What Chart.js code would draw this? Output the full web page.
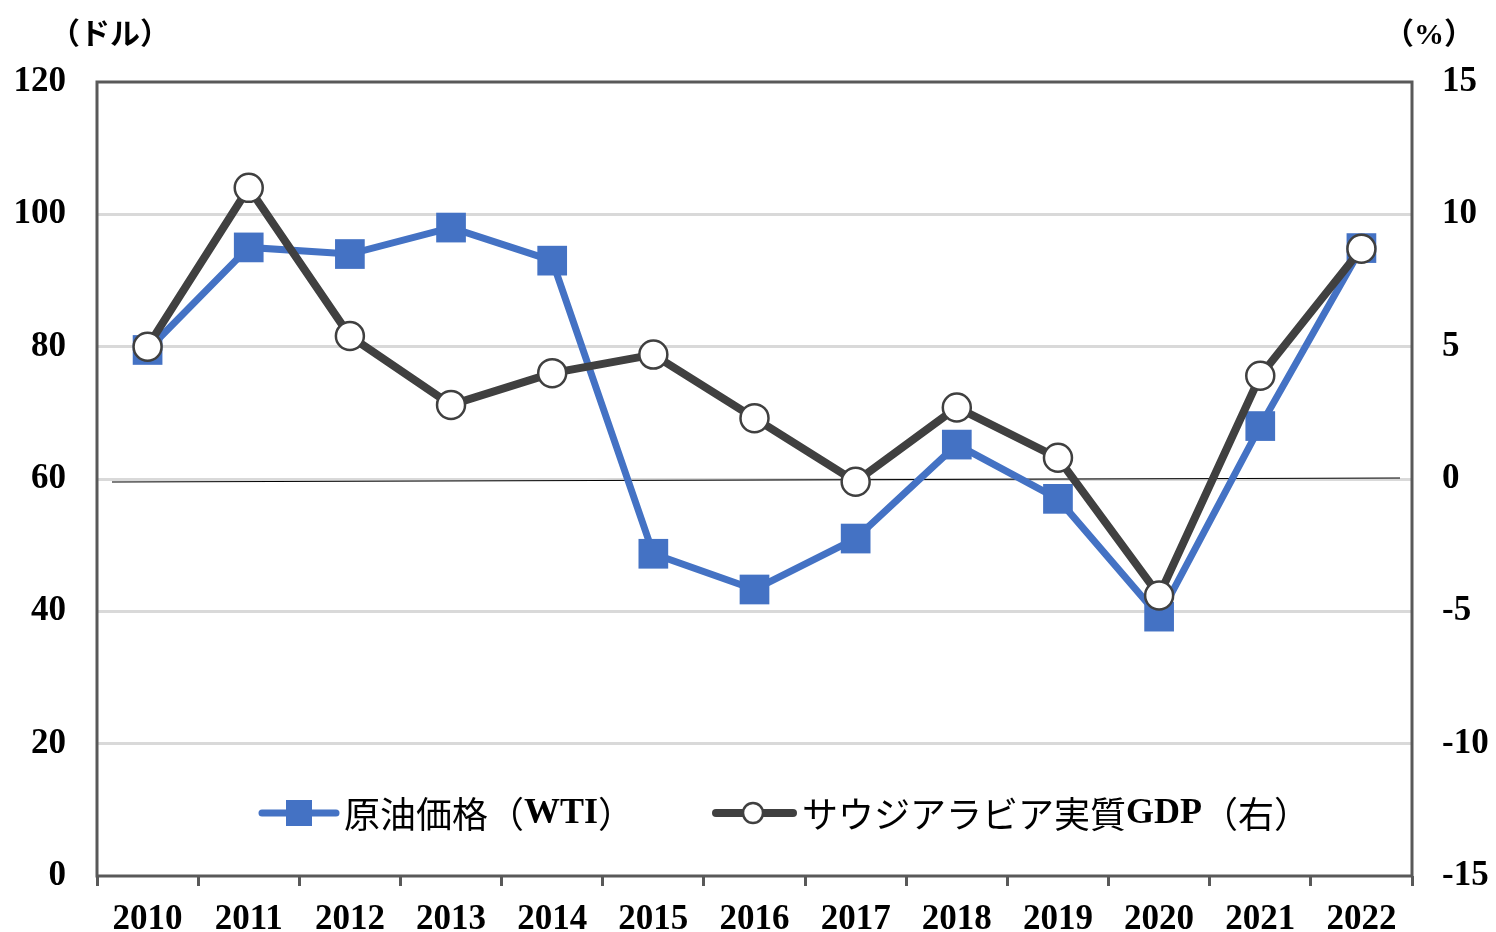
<!DOCTYPE html>
<html>
<head>
<meta charset="utf-8">
<script src="https://cdn.jsdelivr.net/npm/chart.js@4"></script>
<style>
  body { margin: 0; background: #fff; }
  #wrap { width: 1496px; height: 932px; }
</style>
</head>
<body>
<div id="wrap"><canvas id="myChart" width="1496" height="932"></canvas></div>
<script>
// data
const years = ['2010','2011','2012','2013','2014','2015','2016','2017','2018','2019','2020','2021','2022'];
const wtiPrice = [79.5, 95, 94, 98, 93, 48.7, 43.3, 51, 65.2, 57, 39.2, 68, 94.9];
const saudiGdp = [5.0, 11.0, 5.4, 2.8, 4.0, 4.7, 2.3, -0.1, 2.7, 0.8, -4.4, 3.9, 8.7];
const leftTicks = [0, 20, 40, 60, 80, 100, 120];
const rightTicks = [-15, -10, -5, 0, 5, 10, 15];
// legend texts, split so the latin part can be bold serif
const wtiLabel = [['原油価格（', 0], ['WTI', 1], ['）', 0]];
const gdpLabel = [['サウジアラビア実質', 0], ['GDP', 1], ['（右）', 0]];

const blue = '#4472C4';
const dark = '#404040';
const numFont = "'Liberation Serif', 'Noto Sans CJK JP', serif";
const jpFont = "'Noto Sans CJK JP', 'Liberation Serif', sans-serif";

function drawParts(c, parts, x, y) {
  for (const p of parts) {
    c.font = p[1] ? "bold 36px " + numFont : "36px " + jpFont;
    c.fillText(p[0], x, y);
    x += c.measureText(p[0]).width;
  }
}

// frame, zero line, axis units and legend
const extras = {
  id: 'extras',
  beforeDatasetsDraw(chart) {
    const c = chart.ctx, a = chart.chartArea;
    const y0 = chart.scales.y1.getPixelForValue(0);
    c.save();
    c.strokeStyle = '#000';
    c.lineWidth = 1.2;
    c.beginPath();
    c.moveTo(a.left + 15, y0 + 3);
    c.lineTo(a.right - 12, y0 - 1);
    c.stroke();
    c.restore();
  },
  afterDraw(chart) {
    const c = chart.ctx, a = chart.chartArea;
    c.save();
    c.strokeStyle = '#595959';
    c.lineWidth = 3;
    c.strokeRect(a.left, a.top, a.right - a.left, a.bottom - a.top);

    c.fillStyle = '#000';
    c.font = "bold 30px " + jpFont;
    c.textBaseline = 'middle';
    c.textAlign = 'left';
    c.fillText('（ドル）', 50, 33);
    c.font = "bold 30px " + numFont;
    c.fillText('（%）', 1384, 36);

    // legend
    const ly = 813;
    c.lineCap = 'round';
    c.strokeStyle = blue;
    c.lineWidth = 7;
    c.beginPath(); c.moveTo(262, ly); c.lineTo(336, ly); c.stroke();
    c.fillStyle = blue;
    c.fillRect(286, ly - 13, 26, 26);
    c.strokeStyle = dark;
    c.lineWidth = 8;
    c.beginPath(); c.moveTo(716, ly); c.lineTo(793, ly); c.stroke();
    c.fillStyle = '#fff';
    c.lineWidth = 2.5;
    c.beginPath(); c.arc(753, ly, 10, 0, Math.PI * 2); c.fill(); c.stroke();

    c.fillStyle = '#000';
    drawParts(c, wtiLabel, 344, ly + 1);
    drawParts(c, gdpLabel, 802, ly + 1);
    c.restore();
  }
};

const tickFont = { family: numFont, size: 35, weight: 'bold' };

const ctx = document.getElementById('myChart');
const myChart = new Chart(ctx, {
  type: 'line',
  data: {
    labels: years,
    datasets: [{
      label: 'サウジアラビア実質GDP（右）',
      data: saudiGdp,
      yAxisID: 'y1',
      order: 0,
      borderColor: dark,
      borderWidth: 8,
      pointStyle: 'circle',
      pointRadius: 14,
      pointBackgroundColor: '#fff',
      pointBorderColor: dark,
      pointBorderWidth: 2.5,
      tension: 0
    }, {
      label: '原油価格（WTI）',
      data: wtiPrice,
      yAxisID: 'y',
      order: 1,
      borderColor: blue,
      borderWidth: 7,
      pointStyle: 'rect',
      pointRadius: 21,
      pointBackgroundColor: blue,
      pointBorderColor: blue,
      pointBorderWidth: 0,
      tension: 0
    }]
  },
  options: {
    responsive: false,
    animation: false,
    layout: { padding: { top: 82, left: 0, right: 0, bottom: 0 } },
    plugins: { legend: { display: false }, tooltip: { enabled: false } },
    scales: {
      x: {
        offset: true,
        grid: { offset: true, drawOnChartArea: false, drawTicks: true, tickLength: 10, color: '#595959', lineWidth: 3 },
        border: { display: false },
        ticks: { color: '#000', font: tickFont, padding: 13, maxRotation: 0 },
        afterFit(scale) { scale.height = 56; }
      },
      y: {
        position: 'left',
        min: 0, max: 120,
        afterBuildTicks(scale) { scale.ticks = leftTicks.map(v => ({ value: v })); },
        grid: { color: c2 => (c2.tick.value === 0 || c2.tick.value === 120) ? 'rgba(0,0,0,0)' : '#d9d9d9', lineWidth: 3, drawTicks: false },
        border: { display: false },
        ticks: { color: '#000', font: tickFont, padding: 31 },
        afterFit(scale) { scale.width = 97; }
      },
      y1: {
        position: 'right',
        min: -15, max: 15,
        afterBuildTicks(scale) { scale.ticks = rightTicks.map(v => ({ value: v })); },
        grid: { drawOnChartArea: false, drawTicks: false },
        border: { display: false },
        ticks: { color: '#000', font: tickFont, padding: 30 },
        afterFit(scale) { scale.width = 84; }
      }
    }
  },
  plugins: [extras]
});
</script>
</body>
</html>
